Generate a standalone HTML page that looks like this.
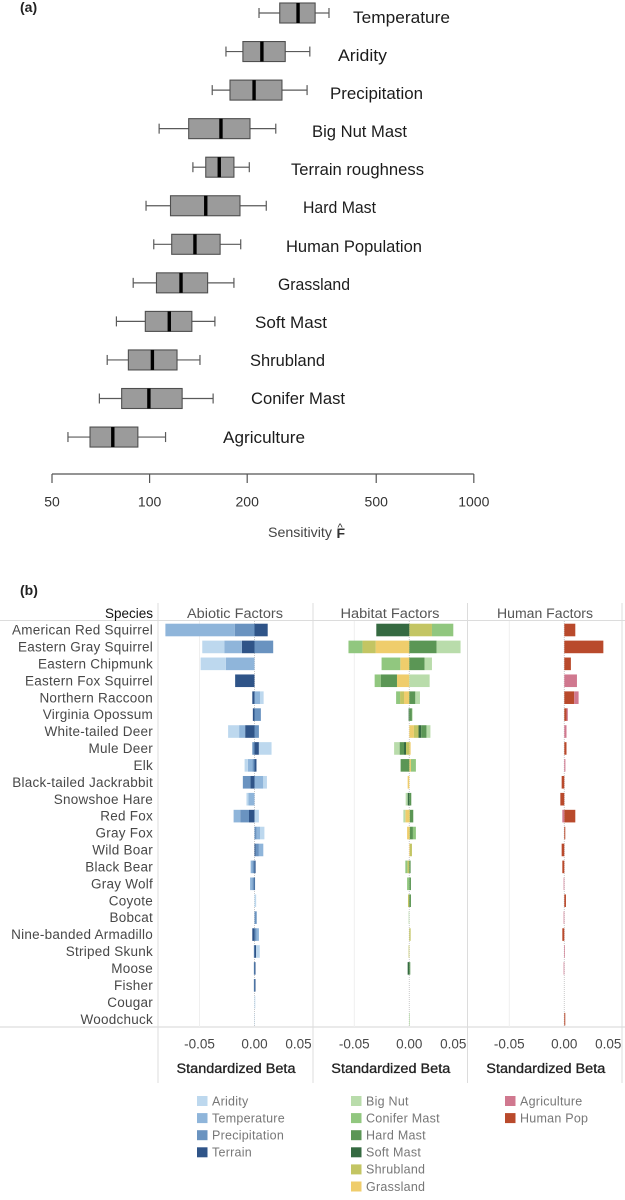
<!DOCTYPE html>
<html>
<head>
<meta charset="utf-8">
<title>Sensitivity and standardized beta chart</title>
<style>
html,body{margin:0;padding:0;background:#fff;}
svg{display:block;font-family:"Liberation Sans",sans-serif;}
</style>
</head>
<body>
<svg id="chart" xmlns="http://www.w3.org/2000/svg" width="625" height="1200" viewBox="0 0 625 1200">
<rect width="625" height="1200" fill="#fff"/>
<text x="20" y="12" font-size="14" font-weight="bold" fill="#222">(a)</text>
<text x="20" y="595" font-size="14" font-weight="bold" fill="#222">(b)</text>
<g id="boxes"></g>
<g font-size="17" fill="#1c1c1c">
<text x="353" y="23" textLength="97" lengthAdjust="spacingAndGlyphs">Temperature</text>
<text x="338" y="61" textLength="49" lengthAdjust="spacingAndGlyphs">Aridity</text>
<text x="330" y="99" textLength="93" lengthAdjust="spacingAndGlyphs">Precipitation</text>
<text x="312" y="137" textLength="95" lengthAdjust="spacingAndGlyphs">Big Nut Mast</text>
<text x="291" y="175" textLength="133" lengthAdjust="spacingAndGlyphs">Terrain roughness</text>
<text x="303" y="213" textLength="73" lengthAdjust="spacingAndGlyphs">Hard Mast</text>
<text x="286" y="252" textLength="136" lengthAdjust="spacingAndGlyphs">Human Population</text>
<text x="278" y="290" textLength="72" lengthAdjust="spacingAndGlyphs">Grassland</text>
<text x="255" y="328" textLength="72" lengthAdjust="spacingAndGlyphs">Soft Mast</text>
<text x="250" y="366" textLength="75" lengthAdjust="spacingAndGlyphs">Shrubland</text>
<text x="251" y="404" textLength="94" lengthAdjust="spacingAndGlyphs">Conifer Mast</text>
<text x="223" y="443" textLength="82" lengthAdjust="spacingAndGlyphs">Agriculture</text>
</g>
<g id="sens-axis"></g>
<text x="268" y="537" font-size="14" fill="#444" textLength="64" lengthAdjust="spacingAndGlyphs">Sensitivity</text>
<text x="336.500" y="538" font-size="14" font-weight="bold" fill="#333">F</text>
<text x="337.500" y="531" font-size="11" fill="#333">^</text>
<g id="frame"></g>
<text x="153" y="618" text-anchor="end" font-size="13.500" fill="#111">Species</text>
<text x="235" y="618" text-anchor="middle" font-size="13.500" fill="#555" textLength="96" lengthAdjust="spacingAndGlyphs">Abiotic Factors</text>
<text x="390" y="618" text-anchor="middle" font-size="13.500" fill="#555" textLength="99" lengthAdjust="spacingAndGlyphs">Habitat Factors</text>
<text x="545" y="618" text-anchor="middle" font-size="13.500" fill="#555" textLength="96" lengthAdjust="spacingAndGlyphs">Human Factors</text>
<g id="species-labels"></g>
<g id="bars"></g>
<g id="beta-axes"></g>
<g id="legend"></g>
</svg>
<script>
// Panel (a): sensitivity boxplot values
const variables = ["Temperature","Aridity","Precipitation","Big Nut Mast","Terrain roughness","Hard Mast","Human Population","Grassland","Soft Mast","Shrubland","Conifer Mast","Agriculture"];
const whiskerLow = [217.5,172,156,107,136,97.5,103,89,79,74,70,56];
const boxLow = [252,194,177,132,149,116,117,105,97,86,82,65.5];
const median = [287,222,210,166,164,149,138,125,115,102,99.5,77];
const boxHigh = [324,262,256,204,182,190,165,151,135,121.5,126,92];
const whiskerHigh = [357.5,312,306,245,203,229,191,182,159,143,157,112];
const sensTicks = [50,100,200,500,1000];

// Panel (b): standardized beta values per species
const species = ["American Red Squirrel","Eastern Gray Squirrel","Eastern Chipmunk","Eastern Fox Squirrel","Northern Raccoon","Virginia Opossum","White-tailed Deer","Mule Deer","Elk","Black-tailed Jackrabbit","Snowshoe Hare","Red Fox","Gray Fox","Wild Boar","Black Bear","Gray Wolf","Coyote","Bobcat","Nine-banded Armadillo","Striped Skunk","Moose","Fisher","Cougar","Woodchuck"];
const terrain =      [.012,-.0115,0,-.0176,-.002,-.0015,-.0085,.004,.0018,-.0036,0,-.005,0,.001,.001,.0005,0,0,-.002,.0015,.0009,.0009,0,0];
const precipitation =[-.018,.017,0,0,0,.0058,.004,-.002,-.002,-.007,0,-.008,.002,.003,-.002,-.002,0,.002,.002,-.0006,-.0006,-.0006,0,0];
const temperature =  [-.063,-.016,-.026,0,.005,0,-.0055,0,-.004,.008,-.0055,-.006,.003,.004,-.0015,-.002,0,0,.002,0,0,0,0,0];
const aridity =      [0,-.02,-.023,0,.0033,0,-.01,.0115,-.003,.0033,-.0018,.004,.004,0,0,0,.0015,0,0,.0033,0,0,.0007,.0003];
const grassland =    [0,-.0306,-.0082,-.0112,-.0048,0,.0042,.0012,.0015,-.0015,0,-.0036,-.002,.0006,0,0,0,0,0,0,0,0,0,0];
const shrubland =    [.0206,-.012,0,0,-.0036,0,.0042,-.003,0,0,0,.0006,.0006,.0018,-.0018,0,-.0012,0,.0012,-.0006,0,0,0,0];
const softMast =     [-.03,0,0,0,0,-.0006,.0024,-.0018,0,0,-.0015,0,0,0,0,0,0,0,0,0,-.0015,0,0,0];
const hardMast =     [0,.0248,.0139,-.0148,.0055,.0024,.0048,-.004,-.0079,0,.0018,.003,.0027,0,.0012,.0015,.0015,0,0,0,.0009,0,0,0];
const coniferMast =  [.0194,-.0127,-.017,-.0055,-.0036,0,0,0,.0045,0,0,0,.0027,0,-.0018,-.002,0,0,0,0,0,0,0,0];
const bigNut =       [0,.0218,.0067,.0185,.0042,.0006,.0036,-.005,0,0,-.0018,-.0018,0,0,0,0,0,-.0006,0,0,0,0,0,.0006];
const humanPop =     [.01,.0355,.006,0,.009,.002,0,.002,0,-.0024,-.0036,.01,.0009,-.0024,-.0018,0,.0015,0,-.0018,0,0,0,0,.0009];
const agriculture =  [0,0,0,.0115,.004,.0012,.002,0,.001,0,0,-.0018,0,0,0,-.0006,0,-.0006,0,.0006,-.0006,0,0,0];
const betaTicks = ["-0.05","0.00","0.05"];
const betaTickValues = [-0.05,0,0.05];

const NS = "http://www.w3.org/2000/svg";
function mk(parent, tag, attrs, txt){
  const el = document.createElementNS(NS, tag);
  for (const k in attrs) el.setAttribute(k, attrs[k]);
  if (txt !== undefined) el.textContent = txt;
  parent.appendChild(el);
  return el;
}
function slug(s){ return String(s).toLowerCase().replace(/[^a-z0-9]+/g,'-'); }

// Axis functions
function xLog(v){ return 52 + 97.6 * Math.log2(v / 50); }
function yVar(i){ return 13 + 38.55 * i; }
function yRow(i){ return 630 + 16.92 * i; }

// Boxplots
const boxes = document.getElementById('boxes');
variables.forEach(function(name, i){
  const g = mk(boxes, 'g', {});
  
  
  const y = yVar(i);
  const line = {stroke:'#5a5a5a','stroke-width':1.2};
  mk(g,'line',Object.assign({x1:xLog(whiskerLow[i]),x2:xLog(boxLow[i]),y1:y,y2:y},line));
  mk(g,'line',Object.assign({x1:xLog(boxHigh[i]),x2:xLog(whiskerHigh[i]),y1:y,y2:y},line));
  mk(g,'line',Object.assign({x1:xLog(whiskerLow[i]),x2:xLog(whiskerLow[i]),y1:y-5,y2:y+5},line));
  mk(g,'line',Object.assign({x1:xLog(whiskerHigh[i]),x2:xLog(whiskerHigh[i]),y1:y-5,y2:y+5},line));
  mk(g,'rect',{x:xLog(boxLow[i]),y:y-10,width:xLog(boxHigh[i])-xLog(boxLow[i]),height:20,fill:'#9b9b9b',stroke:'#4f4f4f','stroke-width':1.1});
  mk(g,'line',{x1:xLog(median[i]),x2:xLog(median[i]),y1:y-10,y2:y+10,stroke:'#000','stroke-width':3.4});
});

// Sensitivity axis
const sa = document.getElementById('sens-axis');
mk(sa,'line',{x1:xLog(50),x2:xLog(1000),y1:474,y2:474,stroke:'#555','stroke-width':1.2});
sensTicks.forEach(function(t){
  const x = xLog(t);
  mk(sa,'line',{x1:x,x2:x,y1:474,y2:483,stroke:'#555','stroke-width':1.2});
  const lbl = mk(sa,'text',{x:x,y:506.5,'text-anchor':'middle','font-size':14,fill:'#333'},t);
  
  
});

// Frame
const frame = document.getElementById('frame');
mk(frame,'line',{x1:0,x2:625,y1:620.5,y2:620.5,stroke:'#dcdcdc','stroke-width':1});
mk(frame,'line',{x1:0,x2:625,y1:1027,y2:1027,stroke:'#d4d4d4','stroke-width':1});
[158,313,467.500,622].forEach(function(x){
  mk(frame,'line',{x1:x,x2:x,y1:603,y2:1083,stroke:'#dcdcdc','stroke-width':1});
});

// Species labels
const sl = document.getElementById('species-labels');
species.forEach(function(name, i){
  const t = mk(sl,'text',{x:153,y:yRow(i)+4.6,'text-anchor':'end','font-size':13.5,fill:'#484848','letter-spacing':'0.25'},name);
  
  
});

// Panels: series ordered from the zero line outward
const panels = [
  {name:'abiotic', zero:254.5, series:[
    {k:'terrain',label:'Terrain',v:terrain,c:'#2f5488'},
    {k:'precipitation',label:'Precipitation',v:precipitation,c:'#6a93c0'},
    {k:'temperature',label:'Temperature',v:temperature,c:'#8fb5da'},
    {k:'aridity',label:'Aridity',v:aridity,c:'#bdd8ee'}]},
  {name:'habitat', zero:409.3, series:[
    {k:'grassland',label:'Grassland',v:grassland,c:'#efcd6c'},
    {k:'shrubland',label:'Shrubland',v:shrubland,c:'#c3c563'},
    {k:'soft-mast',label:'Soft Mast',v:softMast,c:'#356a41'},
    {k:'hard-mast',label:'Hard Mast',v:hardMast,c:'#5b9655'},
    {k:'conifer-mast',label:'Conifer Mast',v:coniferMast,c:'#91c77f'},
    {k:'big-nut',label:'Big Nut',v:bigNut,c:'#b9dcab'}]},
  {name:'human', zero:564.3, series:[
    {k:'human-pop',label:'Human Pop',v:humanPop,c:'#b94a2c'},
    {k:'agriculture',label:'Agriculture',v:agriculture,c:'#d0788f'}]}
];
function xBeta(p, b){ return p.zero + b * 1100; }

const axes = document.getElementById('beta-axes');
const bars = document.getElementById('bars');
panels.forEach(function(p){
  // gridlines and tick labels
  betaTickValues.forEach(function(tv, j){
    const x = xBeta(p, tv);
    if (tv < 0) mk(bars,'line',{x1:x,x2:x,y1:621,y2:1027,stroke:'#efefef','stroke-width':1});
    if (tv === 0) mk(bars,'line',{x1:x,x2:x,y1:621,y2:1027,stroke:'#c8c8c8','stroke-width':1,'stroke-dasharray':'1 1'});
    const shifted = tv > 0 ? x - 11 : x;
    const lbl = mk(axes,'text',{x:shifted,y:1048.5,'text-anchor':'middle','font-size':13.5,fill:'#484848'},betaTicks[j]);
    
    
  });
  const title = mk(axes,'text',{x:xBeta(p,0)-18.5,y:1073,'text-anchor':'middle','font-size':13.5,fill:'#222',stroke:'#222','stroke-width':0.3,textLength:119,lengthAdjust:'spacingAndGlyphs'},'Standardized Beta');
  
  
  // stacked bars
  species.forEach(function(sp, i){
    let pos = 0, neg = 0;
    p.series.forEach(function(s){
      const val = s.v[i];
      if (!val) return;
      let a, b;
      if (val > 0) { a = pos; b = pos + val; pos = b; }
      else { a = neg + val; b = neg; neg = a; }
      const r = mk(bars,'rect',{x:xBeta(p,a),y:yRow(i)-6.3,width:xBeta(p,b)-xBeta(p,a),height:12.6,fill:s.c});
      
      
    });
  });
});

// Legend
const legend = document.getElementById('legend');
const legendCols = [
  {sx:197, tx:212, items:[['Aridity','#bdd8ee'],['Temperature','#8fb5da'],['Precipitation','#6a93c0'],['Terrain','#2f5488']]},
  {sx:351, tx:366, items:[['Big Nut','#b9dcab'],['Conifer Mast','#91c77f'],['Hard Mast','#5b9655'],['Soft Mast','#356a41'],['Shrubland','#c3c563'],['Grassland','#efcd6c']]},
  {sx:505, tx:520, items:[['Agriculture','#d0788f'],['Human Pop','#b94a2c']]}
];
legendCols.forEach(function(col){
  col.items.forEach(function(it, i){
    const y = 1101 + 17.1 * i;
    const g = mk(legend,'g',{});
    
    
    mk(g,'rect',{x:col.sx,y:y-5,width:10.5,height:10,fill:it[1]});
    mk(g,'text',{x:col.tx,y:y+4.3,'font-size':12.5,fill:'#777','letter-spacing':'0.25'},it[0]);
  });
});
</script>
</body>
</html>
